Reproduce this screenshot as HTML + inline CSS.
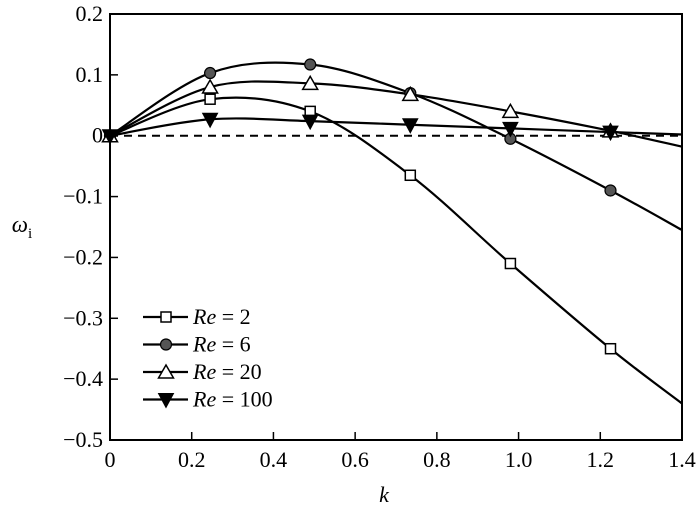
<!DOCTYPE html>
<html><head><meta charset="utf-8"><style>
html,body{margin:0;padding:0;background:#fff;}
text{font-family:"Liberation Serif","DejaVu Serif",serif !important;}
</style></head><body>
<svg id="chart" width="700" height="512" viewBox="0 0 700 512">
</svg>
<script>
const kMarkers=[0,0.245,0.49,0.735,0.98,1.225];
const kEnd=1.4;
const seriesNames=["Re = 2","Re = 6","Re = 20","Re = 100"];
const re2=[0,0.06,0.04,-0.065,-0.21,-0.35];
const re6=[0,0.103,0.117,0.07,-0.005,-0.09];
const re20=[0,0.08,0.086,0.068,0.04,0.008];
const re100=[0,0.027,0.024,0.018,0.012,0.006];
const endValues=[-0.44,-0.155,-0.018,0.002];
const markerTypes=["square","circle","triangle","tridown"];
const xTicks=[0,0.2,0.4,0.6,0.8,1.0,1.2,1.4];
const xTickLabels=["0","0.2","0.4","0.6","0.8","1.0","1.2","1.4"];
const yTicks=[0.2,0.1,0,-0.1,-0.2,-0.3,-0.4,-0.5];
const yTickLabels=["0.2","0.1","0","\u22120.1","\u22120.2","\u22120.3","\u22120.4","\u22120.5"];

const NS="http://www.w3.org/2000/svg";
const svg=document.getElementById('chart');
const L=110,R=682,T=14,B=440;
const xS=v=>L+(v-0)/(1.4)*(R-L);
const yS=v=>T+(0.2-v)/(0.7)*(B-T);
function mk(tag,attrs,parent){const e=document.createElementNS(NS,tag);for(const k in attrs)e.setAttribute(k,attrs[k]);if(tag==='text')e.setAttribute('style',"font-family:'Liberation Serif','DejaVu Serif',serif");(parent||svg).appendChild(e);return e;}

let z=mk('line',{x1:L,x2:R,y1:yS(0),y2:yS(0),stroke:'#000','stroke-width':2,'stroke-dasharray':'8,6'});



let fr=mk('rect',{x:L,y:T,width:R-L,height:B-T,fill:'none',stroke:'#000','stroke-width':2});



xTicks.forEach((v,i)=>{
  let t=mk('line',{x1:xS(v),x2:xS(v),y1:B,y2:B-8,stroke:'#000','stroke-width':1.5});
  
  
  let tx=mk('text',{x:xS(v),y:B+27,'text-anchor':'middle','font-size':22});
  tx.textContent=xTickLabels[i];
  
  
});
yTicks.forEach((v,i)=>{
  let t=mk('line',{x1:L,x2:L+8,y1:yS(v),y2:yS(v),stroke:'#000','stroke-width':1.5});
  
  
  let tx=mk('text',{x:L-7,y:yS(v)+7,'text-anchor':'end','font-size':22});
  tx.textContent=yTickLabels[i];
  
  
});
let xt=mk('text',{x:384,y:502,'text-anchor':'middle','font-size':22,'font-style':'italic'});
xt.textContent='k';


let yt=mk('text',{x:22,y:232,'text-anchor':'middle','font-size':23,'font-style':'italic'});
yt.innerHTML='ω<tspan font-size="15" font-style="normal" dy="6">i</tspan>';



function curvePath(pts){
  let d='M'+pts[0][0]+','+pts[0][1];
  for(let i=0;i<pts.length-1;i++){
    const p0=pts[i-1]||pts[i],p1=pts[i],p2=pts[i+1],p3=pts[i+2]||pts[i+1];
    const c1=[p1[0]+(p2[0]-p0[0])/6,p1[1]+(p2[1]-p0[1])/6];
    const c2=[p2[0]-(p3[0]-p1[0])/6,p2[1]-(p3[1]-p1[1])/6];
    d+=' C'+c1+' '+c2+' '+p2;
  }
  return d;
}
function marker(type,x,y,name){
  let e;
  if(type==='square')e=mk('rect',{x:x-5,y:y-5,width:10,height:10,fill:'#fff',stroke:'#000','stroke-width':1.5});
  else if(type==='circle')e=mk('circle',{cx:x,cy:y,r:5.5,fill:'#555',stroke:'#000','stroke-width':1.2});
  else if(type==='triangle')e=mk('polygon',{points:`${x},${y-7} ${x-7.5},${y+6} ${x+7.5},${y+6}`,fill:'#fff',stroke:'#000','stroke-width':1.5});
  else e=mk('polygon',{points:`${x},${y+8} ${x-7.5},${y-6} ${x+7.5},${y-6}`,fill:'#000',stroke:'#000','stroke-width':1});
  
  
  return e;
}
const all=[re2,re6,re20,re100];
all.forEach((vals,si)=>{
  const pts=kMarkers.map((k,i)=>[xS(k),yS(vals[i])]);
  pts.push([xS(kEnd),yS(endValues[si])]);
  let p=mk('path',{d:curvePath(pts),fill:'none',stroke:'#000','stroke-width':2.2});
  
  
});
all.forEach((vals,si)=>{
  kMarkers.forEach((k,i)=>marker(markerTypes[si],xS(k),yS(vals[i]),'data-point'));
});
seriesNames.forEach((n,i)=>{
  const y=317+i*27.5;
  let g=mk('g',{});
  
  
  mk('line',{x1:143,x2:188,y1:y,y2:y,stroke:'#000','stroke-width':2.2},g);
  g.appendChild(marker(markerTypes[i],166,y,'legend-marker'));
  let t=mk('text',{x:193,y:y+7,'font-size':22},g);
  t.innerHTML='<tspan font-style="italic">Re</tspan> = '+n.split('= ')[1];
});
</script>
</body></html>
